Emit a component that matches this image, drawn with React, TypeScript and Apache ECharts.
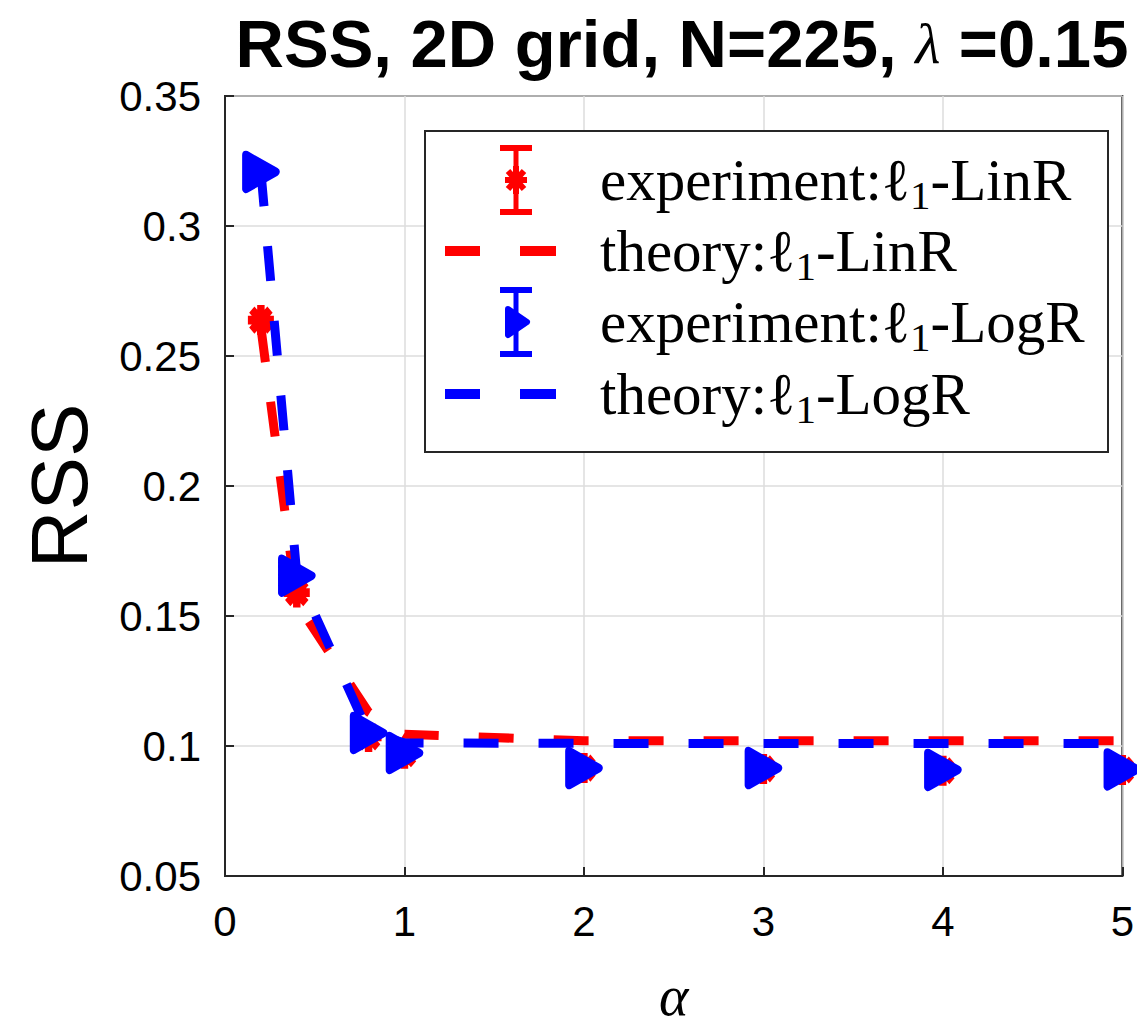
import React, { useEffect, useRef } from "react";
import * as echarts from "echarts";

const alphaValues = [0.2, 0.4, 0.8, 1, 2, 3, 4, 5];
const expLinR = [0.2638, 0.159, 0.1035, 0.097, 0.0915, 0.0912, 0.0905, 0.0908];
const theoryLinR = [0.261, 0.155, 0.113, 0.1045, 0.102, 0.102, 0.102, 0.102];
const expLogR = [0.3208, 0.1655, 0.105, 0.0973, 0.0915, 0.0915, 0.0908, 0.091];
const theoryLogR = [0.321, 0.166, 0.105, 0.1012, 0.101, 0.101, 0.101, 0.101];
const xTickValues = [0, 1, 2, 3, 4, 5];
const yTickValues = [0.05, 0.1, 0.15, 0.2, 0.25, 0.3, 0.35];

const legendLabels = [
  ["experiment:ℓ", "-LinR"],
  ["theory:ℓ", "-LinR"],
  ["experiment:ℓ", "-LogR"],
  ["theory:ℓ", "-LogR"],
];

const RED = "#ff0000";
const BLUE = "#0000ff";
const AX = "#262626";

function pairs(xs: number[], ys: number[]) {
  return xs.map((x, i) => [x, ys[i]]);
}

export default function App() {
  const ref = useRef<HTMLDivElement>(null);
  useEffect(() => {
    document.body.style.margin = "0";
    const chart = echarts.init(ref.current!, null, { renderer: "svg" });
    const serif = "'Liberation Serif', 'DejaVu Serif', serif";
    const sans = "'Liberation Sans', Arial, Helvetica, sans-serif";
    const rowY = [180, 251, 322, 394];
    const legendGraphics: any[] = [
      {
        type: "rect",
        shape: { x: 425, y: 131, width: 683, height: 321 },
        style: { fill: "#fff", stroke: AX, lineWidth: 2 },
        z: 100,
      },
    ];
    const errBar = (cx: number, cy: number, color: string) => [
      { type: "line", shape: { x1: cx, y1: cy - 32, x2: cx, y2: cy + 32 }, style: { stroke: color, lineWidth: 5 }, z: 101 },
      { type: "line", shape: { x1: cx - 16, y1: cy - 32, x2: cx + 16, y2: cy - 32 }, style: { stroke: color, lineWidth: 6 }, z: 101 },
      { type: "line", shape: { x1: cx - 16, y1: cy + 32, x2: cx + 16, y2: cy + 32 }, style: { stroke: color, lineWidth: 6 }, z: 101 },
    ];
    legendGraphics.push(...errBar(516, rowY[0], RED));
    const ast = [
      [0, -14, 0, 14],
      [-11, 0, 11, 0],
      [-8, -9, 8, 9],
      [-8, 9, 8, -9],
    ];
    ast.forEach(([a, b, c, d]) =>
      legendGraphics.push({
        type: "line",
        shape: { x1: 516 + a, y1: rowY[0] + b, x2: 516 + c, y2: rowY[0] + d },
        style: { stroke: RED, lineWidth: 6 },
        z: 102,
      })
    );
    legendGraphics.push(
      { type: "line", shape: { x1: 445, y1: rowY[1], x2: 480, y2: rowY[1] }, style: { stroke: RED, lineWidth: 10 }, z: 101 },
      { type: "line", shape: { x1: 520, y1: rowY[1], x2: 556, y2: rowY[1] }, style: { stroke: RED, lineWidth: 10 }, z: 101 }
    );
    legendGraphics.push(...errBar(516, rowY[2], BLUE));
    legendGraphics.push({
      type: "polygon",
      shape: { points: [[508, rowY[2] - 13], [527, rowY[2]], [508, rowY[2] + 13]] },
      style: { fill: BLUE, stroke: BLUE, lineWidth: 6, lineJoin: "round" },
      z: 102,
    });
    legendGraphics.push(
      { type: "line", shape: { x1: 445, y1: rowY[3], x2: 480, y2: rowY[3] }, style: { stroke: BLUE, lineWidth: 10 }, z: 101 },
      { type: "line", shape: { x1: 520, y1: rowY[3], x2: 556, y2: rowY[3] }, style: { stroke: BLUE, lineWidth: 10 }, z: 101 }
    );
    legendLabels.forEach(([a, b], i) => {
      legendGraphics.push({
        type: "text",
        x: 600,
        y: rowY[i],
        z: 103,
        style: {
          text: `{m|${a}}{s|1}{m|${b}}`,
          fill: "#000",
          verticalAlign: "middle",
          align: "left",
          rich: {
            m: { fontFamily: serif, fontSize: 59, lineHeight: 70, verticalAlign: "middle", fill: "#000" },
            s: { fontFamily: serif, fontSize: 41, lineHeight: 34, verticalAlign: "bottom", fill: "#000" },
          },
        },
      });
    });

    const option: any = {
      animation: false,
      backgroundColor: "#fff",
      grid: { left: 225, right: 8, top: 96, bottom: 154, show: true, borderColor: AX, borderWidth: 2, backgroundColor: "transparent" },
      xAxis: {
        type: "value",
        min: xTickValues[0],
        max: xTickValues[xTickValues.length - 1],
        interval: 1,
        name: "α",
        nameLocation: "middle",
        nameGap: 92,
        nameTextStyle: { fontFamily: serif, fontStyle: "italic", fontSize: 56, color: "#000" },
        axisLine: { show: true, lineStyle: { color: AX, width: 2 } },
        axisTick: { show: true, inside: true, length: 9, lineStyle: { color: AX, width: 2 } },
        axisLabel: { fontFamily: sans, fontSize: 42, color: "#000", margin: 24 },
        splitLine: { show: true, lineStyle: { color: "#dcdcdc", width: 1.5 } },
      },
      yAxis: {
        type: "value",
        min: yTickValues[0],
        max: yTickValues[yTickValues.length - 1],
        interval: 0.05,
        name: "RSS",
        nameLocation: "middle",
        nameGap: 126,
        nameRotate: 90,
        nameTextStyle: { fontFamily: sans, fontSize: 80, color: "#000" },
        axisLine: { show: true, lineStyle: { color: AX, width: 2 } },
        axisTick: { show: true, inside: true, length: 9, lineStyle: { color: AX, width: 2 } },
        axisLabel: {
          fontFamily: sans,
          fontSize: 42,
          color: "#000",
          margin: 24,
          formatter: (v: number) => String(parseFloat(v.toFixed(2))),
        },
        splitLine: { show: true, lineStyle: { color: "#dcdcdc", width: 1.5 } },
      },
      graphic: [
        {
          type: "text",
          x: 682,
          y: 43,
          style: {
            text: "{b|RSS, 2D grid, N=225, }{l|λ}{b| =0.15}",
            align: "center",
            verticalAlign: "middle",
            rich: {
              b: { fontFamily: sans, fontWeight: "bold", fontSize: 67, fill: "#000" },
              l: { fontFamily: serif, fontStyle: "italic", fontSize: 58, fill: "#000" },
            },
          },
        },
        ...legendGraphics,
      ],
      series: [
        {
          name: "experiment:LinR",
          type: "scatter",
          data: pairs(alphaValues, expLinR),
          symbol: "path://M10 0L10 20M0 10L20 10M3 3L17 17M3 17L17 3",
          symbolSize: [26, 30],
          itemStyle: { color: RED, borderColor: RED, borderWidth: 8, opacity: 1 },
          z: 2,
        },
        {
          name: "theory:LinR",
          type: "line",
          data: pairs(alphaValues, theoryLinR),
          showSymbol: false,
          symbol: "none",
          lineStyle: { color: RED, width: 9, type: [35, 40], dashOffset: 0, cap: "butt" },
          z: 3,
        },
        {
          name: "experiment:LogR",
          type: "scatter",
          data: pairs(alphaValues, expLogR),
          symbol: "path://M0 0L20 11L0 22Z",
          symbolSize: [30, 34],
          itemStyle: { color: BLUE, borderColor: BLUE, borderWidth: 8, borderJoin: "round", opacity: 1 },
          z: 4,
        },
        {
          name: "theory:LogR",
          type: "line",
          data: pairs(alphaValues, theoryLogR),
          showSymbol: false,
          symbol: "none",
          lineStyle: { color: BLUE, width: 9, type: [35, 40], dashOffset: 0, cap: "butt" },
          z: 5,
        },
      ],
    };
    chart.setOption(option);
    return () => chart.dispose();
  }, []);
  return (
    <div
      ref={ref}
      style={{ position: "fixed", left: 0, top: 0, width: 1137, height: 1030, background: "#fff" }}
    />
  );
}
